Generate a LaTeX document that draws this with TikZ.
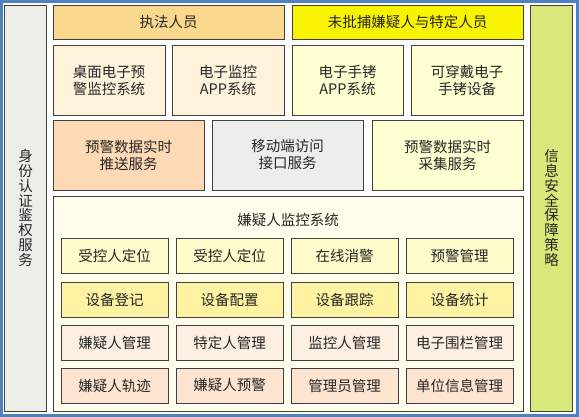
\documentclass[tikz,border=0pt]{standalone}
\usepackage{fontspec}
\setmainfont{Noto Sans CJK SC}
\usepackage{xcolor}
\usetikzlibrary{positioning}

\definecolor{frameblue}{HTML}{4F81BD}
\definecolor{authgrey}{HTML}{ECEEE8}
\definecolor{secgreen}{HTML}{D9E87A}
\definecolor{officer}{HTML}{FAD98E}
\definecolor{suspect}{HTML}{F8F300}
\definecolor{peachlt}{HTML}{FFF2DA}
\definecolor{yellowlt}{HTML}{FFFFD2}
\definecolor{peach}{HTML}{FDD9B5}
\definecolor{mobgrey}{HTML}{ECEEE9}
\definecolor{cream}{HTML}{FFFDEB}
\definecolor{rowa}{HTML}{FFFCCC}
\definecolor{rowb}{HTML}{FDF3A3}
\definecolor{rowc}{HTML}{FDF0E3}
\definecolor{rowd}{HTML}{FDE4D0}
\definecolor{ink}{HTML}{262626}

\begin{document}
\begin{tikzpicture}[
  x=1pt, y=-1pt,
  node distance=8pt and 8pt,
  box/.style={draw=black!75, line width=0.8pt, outer sep=0pt, inner sep=1pt,
              align=center, text=ink, font=\fontsize{14.5}{17}\selectfont},
  side/.style={box, minimum width=42pt, minimum height=406pt,
               font=\fontsize{14.5}{14.8}\selectfont},
  cell/.style={box, minimum width=107pt, minimum height=35pt}
]
\useasboundingbox (0,0) rectangle (579,417);
\draw[frameblue, line width=3pt] (1.5,1.5) rectangle (577.5,415.5);

% side columns
\node[side, fill=authgrey] (auth) at (25.5,208) {身\\份\\认\\证\\鉴\\权\\服\\务};
\node[side, fill=secgreen] (secur) at (551.5,208) {信\\息\\安\\全\\保\\障\\策\\略};

% users
\node[box, fill=officer, minimum width=231pt, minimum height=34pt] (officer) at (168.5,22) {执法人员};
\node[box, fill=suspect, minimum width=231pt, minimum height=34pt] (suspect) at (407.5,22) {未批捕嫌疑人与特定人员};

% clients
\node[box, fill=peachlt, minimum width=112pt, minimum height=70pt] (desk) at (109,80) {桌面电子预\\警监控系统};
\node[box, fill=peachlt, minimum width=112pt, minimum height=70pt] (monapp) at (228,80) {电子监控\\APP系统};
\node[box, fill=yellowlt, minimum width=111pt, minimum height=70pt] (cuffapp) at (347.5,80) {电子手铐\\APP系统};
\node[box, fill=yellowlt, minimum width=112pt, minimum height=70pt] (wear) at (467,80) {可穿戴电子\\手铐设备};

% services
\node[box, fill=peach, minimum width=151pt, minimum height=70pt] (push) at (128.5,155) {预警数据实时\\推送服务};
\node[box, fill=mobgrey, minimum width=151pt, minimum height=70pt] (mobile) at (287.5,155) {移动端访问\\接口服务};
\node[box, fill=yellowlt, minimum width=151pt, minimum height=70pt] (collect) at (447.5,155) {预警数据实时\\采集服务};

% monitoring system
\node[box, fill=cream, minimum width=470pt, minimum height=215pt] (system) at (288,303.5) {};
\node[text=ink, font=\fontsize{14.5}{17}\selectfont] (systitle) at (288,220) {嫌疑人监控系统};

\node[cell, fill=rowa] (c11) at (114.5,255.5) {受控人定位};
\node[cell, fill=rowa, right=of c11] (c12) {受控人定位};
\node[cell, fill=rowa, right=of c12] (c13) {在线消警};
\node[cell, fill=rowa, right=of c13] (c14) {预警管理};

\node[cell, fill=rowb, below=9pt of c11] (c21) {设备登记};
\node[cell, fill=rowb, right=of c21] (c22) {设备配置};
\node[cell, fill=rowb, right=of c22] (c23) {设备跟踪};
\node[cell, fill=rowb, right=of c23] (c24) {设备统计};

\node[cell, fill=rowc, below=of c21] (c31) {嫌疑人管理};
\node[cell, fill=rowc, right=of c31] (c32) {特定人管理};
\node[cell, fill=rowc, right=of c32] (c33) {监控人管理};
\node[cell, fill=rowc, right=of c33] (c34) {电子围栏管理};

\node[cell, fill=rowd, below=of c31] (c41) {嫌疑人轨迹};
\node[cell, fill=rowd, right=of c41] (c42) {嫌疑人预警};
\node[cell, fill=rowd, right=of c42] (c43) {管理员管理};
\node[cell, fill=rowd, right=of c43] (c44) {单位信息管理};
\end{tikzpicture}
\end{document}
